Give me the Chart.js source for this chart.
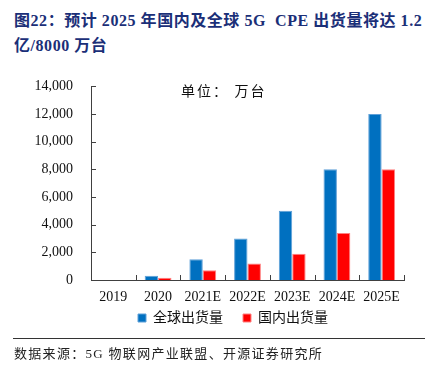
<!DOCTYPE html>
<html lang="zh">
<head>
<meta charset="UTF-8">
<title>5G CPE 出货量</title>
<script src="https://cdn.jsdelivr.net/npm/chart.js"></script>
<style>
  body { margin: 0; width: 429px; height: 371px; background: #fff; position: relative; overflow: hidden; }
  #title { position: absolute; left: 14px; top: 8px; width: 415px; font-family: "Liberation Serif", "Noto Sans CJK SC", serif; font-weight: bold; font-size: 16px; line-height: 25px; letter-spacing: 0.55px; color: #1b2f78; }
  #unit { position: absolute; left: 181px; top: 80px; font-family: "Liberation Serif", "Noto Sans CJK SC", serif; font-size: 14px; letter-spacing: 2px; color: #111; }
  #box { position: absolute; left: 0; top: 60px; width: 429px; height: 290px; }
  #rule { position: absolute; left: 13px; top: 338px; width: 412px; border-top: 1px solid #333; }
  #source { position: absolute; left: 14px; top: 343px; font-family: "Liberation Serif", "Noto Sans CJK SC", serif; font-size: 13px; letter-spacing: 1.3px; color: #222; }
</style>
</head>
<body>
<div id="title">图22：预计 2025 年国内及全球 5G&nbsp; CPE 出货量将达 1.2 亿/8000 万台</div>
<div id="box"><canvas id="chart"></canvas></div>
<div id="unit">单位：&nbsp;万台</div>
<div id="rule"></div>
<div id="source">数据来源：5G 物联网产业联盟、开源证券研究所</div>
<script>
// categories and values (万台)
const years = ['2019', '2020', '2021E', '2022E', '2023E', '2024E', '2025E'];
const globalShip = [0, 300, 1500, 3000, 5000, 8000, 12000];
const domesticShip = [0, 170, 700, 1200, 1900, 3400, 8000];
const yTicks = [0, 2000, 4000, 6000, 8000, 10000, 12000, 14000];

const serif = '"Liberation Serif", "Noto Sans CJK SC", serif';

// inward tick marks on both axes
const innerTicks = {
    id: 'innerTicks',
    afterDraw(chart) {
        const ctx = chart.ctx;
        const x = chart.scales.x, y = chart.scales.y;
        ctx.save();
        ctx.strokeStyle = '#404040';
        ctx.lineWidth = 1;
        ctx.beginPath();
        yTicks.forEach(v => {
            const py = Math.round(y.getPixelForValue(v)) + 0.5;
            ctx.moveTo(x.left, py);
            ctx.lineTo(x.left + 5, py);
        });
        for (let i = 0; i <= years.length; i++) {
            const px = Math.round(x.getPixelForValue(i - 0.5)) + 0.5;
            ctx.moveTo(px, y.bottom);
            ctx.lineTo(px, y.bottom - 5);
        }
        ctx.stroke();
        ctx.restore();
    }
};

// pull the legend up closer to the axis labels and nudge it right
const legendShift = {
    id: 'legendShift',
    afterLayout(chart) {
        const lg = chart.legend;
        lg.top -= 15; lg.bottom -= 15;
        lg.left += 31; lg.right += 31;
    }
};

new Chart(document.getElementById('chart'), {
    type: 'bar',
    data: {
        labels: years,
        datasets: [{
            label: '全球出货量',
            data: globalShip,
            backgroundColor: '#0070c0',
            borderColor: '#5fa0d8',
            borderWidth: 1
        }, {
            label: '国内出货量',
            data: domesticShip,
            backgroundColor: '#ff0000',
            borderColor: '#ff8080',
            borderWidth: 1
        }]
    },
    options: {
        responsive: true,
        maintainAspectRatio: false,
        animation: false,
        layout: { padding: { left: 0, right: 25, top: 24, bottom: 0 } },
        datasets: { bar: { categoryPercentage: 0.6, barPercentage: 1.0 } },
        plugins: {
            tooltip: { enabled: false },
            legend: {
                position: 'bottom',
                labels: {
                    font: { family: serif, size: 14 },
                    color: '#111',
                    boxWidth: 8,
                    boxHeight: 8,
                    padding: 20
                }
            }
        },
        scales: {
            x: {
                grid: { display: false, drawTicks: false },
                border: { display: true, color: '#404040', width: 1 },
                ticks: { font: { family: serif, size: 14 }, color: '#111', padding: 9, maxRotation: 0 },
                afterFit(s) { s.height = 26; }
            },
            y: {
                min: 0,
                max: 14000,
                grid: { display: false, drawTicks: false },
                border: { display: true, color: '#404040', width: 1 },
                afterBuildTicks(s) { s.ticks = yTicks.map(v => ({ value: v })); },
                ticks: {
                    font: { family: serif, size: 14 },
                    color: '#111',
                    padding: 18,
                    callback: v => v.toLocaleString('en-US')
                },
                afterFit(s) { s.width = 91; }
            }
        }
    },
    plugins: [innerTicks, legendShift]
});
</script>
</body>
</html>
